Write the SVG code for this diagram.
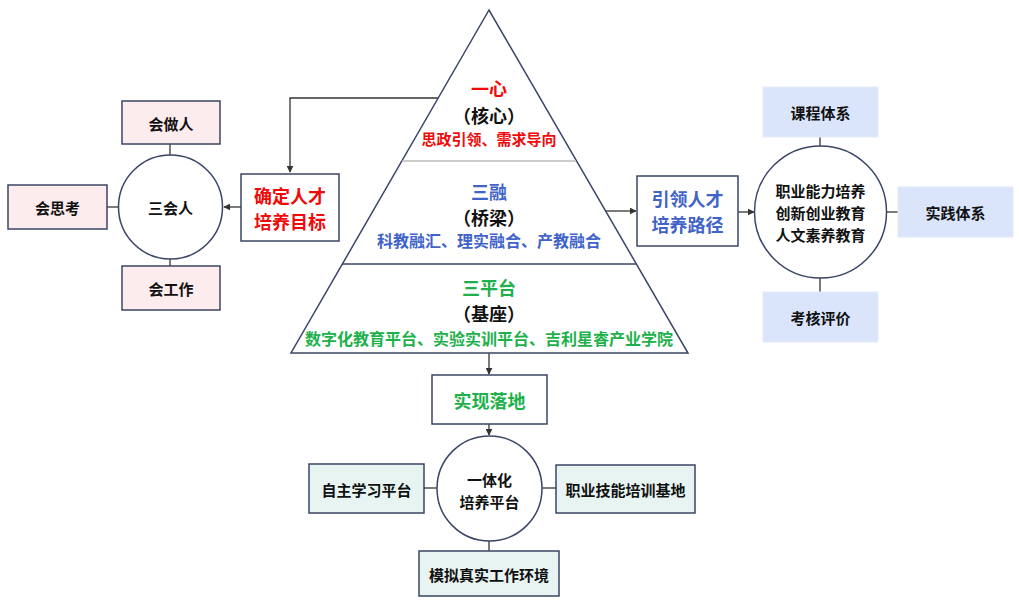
<svg xmlns="http://www.w3.org/2000/svg" width="1019" height="601" viewBox="0 0 1019 601">
<defs>
<marker id="arr" viewBox="0 0 10 10" refX="9" refY="5" markerWidth="7" markerHeight="7" orient="auto" markerUnits="userSpaceOnUse"><path d="M0,0 L10,5 L0,10 z" fill="#333"/></marker>
<style>
text{font-family:"Noto Sans CJK SC","Noto Sans",sans-serif;font-weight:bold;text-anchor:middle;dominant-baseline:central;fill:#111}
.nb{stroke:#3b4566;stroke-width:1.5}
.pink{fill:#fdecee}
.blue{fill:#dae5fb;stroke:#e4ebfb;stroke-width:1}
.mint{fill:#e7f4f1}
.white{fill:#fff}
.conn{stroke:#333;stroke-width:1.3;fill:none}
.t15{font-size:15px}
.t18{font-size:18px}
.red{fill:#f00a0a}
.bl{fill:#3f63c8}
.gr{fill:#1db04b}
</style>
</defs>
<rect width="1019" height="601" fill="#fff"/>
<g id="connectors">
<polyline class="conn" points="438,98 290,98 290,172" marker-end="url(#arr)"/>
<line class="conn" x1="241" y1="207" x2="224" y2="207" marker-end="url(#arr)"/>
<line class="conn" x1="170" y1="144" x2="170" y2="155"/>
<line class="conn" x1="107" y1="207" x2="118" y2="207"/>
<line class="conn" x1="170" y1="259" x2="170" y2="266"/>
<line class="conn" x1="605" y1="211" x2="636" y2="211" marker-end="url(#arr)"/>
<line class="conn" x1="738" y1="212" x2="754" y2="212" marker-end="url(#arr)"/>
<line class="conn" x1="820" y1="137" x2="820" y2="146"/>
<line class="conn" x1="887" y1="212" x2="898" y2="212"/>
<line class="conn" x1="820" y1="278" x2="820" y2="292"/>
<line class="conn" x1="489" y1="353" x2="489" y2="374" marker-end="url(#arr)"/>
<line class="conn" x1="489" y1="424" x2="489" y2="435" marker-end="url(#arr)"/>
<line class="conn" x1="424" y1="488" x2="437" y2="488"/>
<line class="conn" x1="542" y1="488" x2="556" y2="488"/>
<line class="conn" x1="489" y1="541" x2="489" y2="551"/>
</g>
<g id="pyramid">
<polygon points="489,10 291,353 688,353" fill="#fff" stroke="#3b4566" stroke-width="1.5"/>
<line x1="402" y1="161" x2="576" y2="161" stroke="#bbbbbb" stroke-width="1.5"/>
<line x1="342" y1="264" x2="636" y2="264" stroke="#3b4566" stroke-width="1.5"/>
<text x="489" y="88" class="t18 red">一心</text>
<text x="489" y="115" class="t18">（核心）</text>
<text x="489" y="138" class="t15 red">思政引领、需求导向</text>
<text x="489" y="191" class="t18 bl">三融</text>
<text x="489" y="217" class="t18">（桥梁）</text>
<text x="489" y="240" style="font-size:16px" class="bl">科教融汇、理实融合、产教融合</text>
<text x="489" y="287" class="t18 gr">三平台</text>
<text x="489" y="313" class="t18">（基座）</text>
<text x="489" y="338" style="font-size:16px" class="gr">数字化教育平台、实验实训平台、吉利星睿产业学院</text>
</g>
<g id="goal"><rect x="241" y="174" width="98" height="67" class="nb white"/><text x="290" y="195" class="t18 red">确定人才</text><text x="290" y="221" class="t18 red">培养目标</text></g>
<g id="sanhuiren"><circle cx="170.5" cy="207" r="52" class="nb white"/><text x="170.5" y="207" class="t15">三会人</text></g>
<g id="huizuoren"><rect x="122" y="101" width="98" height="43" class="nb pink"/><text x="171" y="123" class="t15">会做人</text></g>
<g id="huisikao"><rect x="8" y="185" width="99" height="44" class="nb pink"/><text x="57.5" y="207" class="t15">会思考</text></g>
<g id="huigongzuo"><rect x="122" y="266" width="98" height="44" class="nb pink"/><text x="171" y="288" class="t15">会工作</text></g>
<g id="path"><rect x="637" y="176" width="101" height="70" class="nb white"/><text x="687.5" y="198" class="t18 bl">引领人才</text><text x="687.5" y="224" class="t18 bl">培养路径</text></g>
<g id="ability"><circle cx="820.5" cy="212" r="66" class="nb white"/><text x="820.5" y="190" class="t15">职业能力培养</text><text x="820.5" y="212" class="t15">创新创业教育</text><text x="820.5" y="234" class="t15">人文素养教育</text></g>
<g id="kecheng"><rect x="763" y="87" width="115" height="50" class="blue"/><text x="820.5" y="112" class="t15">课程体系</text></g>
<g id="shijian"><rect x="898" y="187" width="115" height="50" class="blue"/><text x="955.5" y="212" class="t15">实践体系</text></g>
<g id="kaohe"><rect x="763" y="292" width="115" height="50" class="blue"/><text x="820.5" y="317" class="t15">考核评价</text></g>
<g id="luodi"><rect x="432" y="375" width="115" height="49" class="nb white"/><text x="489.5" y="400" class="t18 gr">实现落地</text></g>
<g id="platform"><circle cx="489.5" cy="488.5" r="52.5" class="nb white"/><text x="489.5" y="479" class="t15">一体化</text><text x="489.5" y="501" class="t15">培养平台</text></g>
<g id="zizhu"><rect x="309" y="464" width="115" height="49" class="nb mint"/><text x="366.5" y="489" class="t15">自主学习平台</text></g>
<g id="zhiye"><rect x="556" y="465" width="139" height="48" class="nb mint"/><text x="625.5" y="489" class="t15">职业技能培训基地</text></g>
<g id="moni"><rect x="419" y="551" width="140" height="45" class="nb mint"/><text x="489" y="574" class="t15">模拟真实工作环境</text></g>
</svg>
